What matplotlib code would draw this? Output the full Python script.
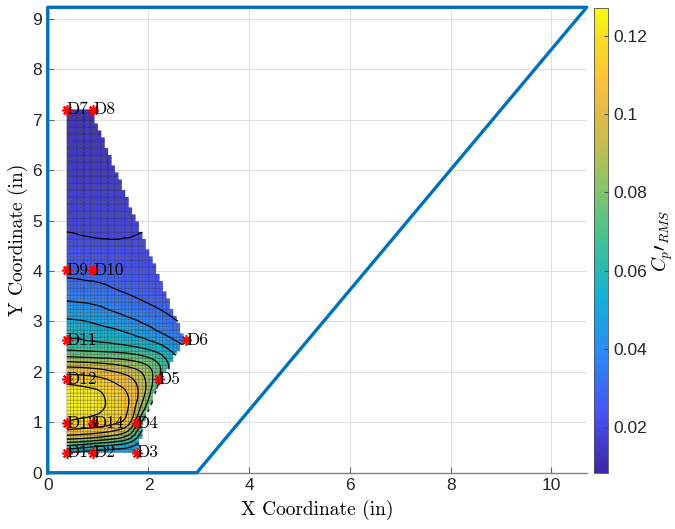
import numpy as np
import matplotlib.pyplot as plt
import matplotlib.tri as mtri
from matplotlib.colors import LinearSegmentedColormap
from matplotlib.path import Path

plt.rcParams['font.family'] = ['Liberation Sans', 'DejaVu Sans']
plt.rcParams['mathtext.fontset'] = 'cm'

# sensor positions (in)
sensor_names = ['D1', 'D2', 'D3', 'D4', 'D5', 'D6', 'D7',
                'D8', 'D9', 'D10', 'D11', 'D12', 'D13', 'D14']
sensor_x = [0.38, 0.90, 1.77, 1.77, 2.20, 2.75, 0.38,
            0.90, 0.38, 0.90, 0.38, 0.38, 0.38, 0.90]
sensor_y = [0.40, 0.40, 0.40, 0.98, 1.85, 2.63, 7.20,
            7.20, 4.02, 4.02, 2.63, 1.85, 0.98, 0.98]

# wing planform
wing_x = [0, 0, 10.7, 2.96, 0]
wing_y = [0, 9.23, 9.23, 0, 0]

# outline of the measured region
region_x = [0.38, 1.80, 1.87, 1.93, 2.05, 2.17, 2.29, 2.53, 2.76, 0.90, 0.38]
region_y = [0.40, 0.40, 0.65, 0.97, 1.30, 1.60, 1.84, 2.24, 2.63, 7.20, 7.20]

# Cp' RMS on a coarse grid
grid_x = [0.38, 0.7, 1.0, 1.3, 1.6, 1.9, 2.2, 2.5, 2.8]
grid_y = [0.4, 0.55, 0.7, 0.85, 1.0, 1.3, 1.6, 1.9, 2.1, 2.3, 2.5, 2.8,
          3.2, 3.6, 4.0, 4.4, 4.7, 5.0, 5.5, 6.0, 6.6, 7.2]
cp_rms = np.array([
    [0.050, 0.047, 0.045, 0.043, 0.042, 0.040, 0.038, 0.036, 0.034],
    [0.072, 0.068, 0.064, 0.060, 0.055, 0.045, 0.040, 0.037, 0.035],
    [0.095, 0.093, 0.090, 0.085, 0.075, 0.052, 0.042, 0.038, 0.035],
    [0.110, 0.108, 0.106, 0.102, 0.092, 0.058, 0.045, 0.040, 0.036],
    [0.119, 0.117, 0.115, 0.112, 0.104, 0.066, 0.048, 0.042, 0.037],
    [0.126, 0.124, 0.122, 0.117, 0.110, 0.084, 0.055, 0.045, 0.038],
    [0.125, 0.123, 0.121, 0.115, 0.109, 0.093, 0.065, 0.048, 0.040],
    [0.113, 0.112, 0.110, 0.106, 0.101, 0.091, 0.072, 0.052, 0.042],
    [0.100, 0.099, 0.097, 0.094, 0.090, 0.084, 0.072, 0.055, 0.043],
    [0.080, 0.079, 0.078, 0.077, 0.075, 0.071, 0.064, 0.052, 0.042],
    [0.066, 0.065, 0.064, 0.063, 0.061, 0.058, 0.053, 0.045, 0.038],
    [0.057, 0.056, 0.054, 0.052, 0.049, 0.045, 0.040, 0.035, 0.031],
    [0.046, 0.045, 0.043, 0.040, 0.037, 0.034, 0.031, 0.028, 0.026],
    [0.035, 0.034, 0.033, 0.031, 0.029, 0.027, 0.025, 0.023, 0.022],
    [0.028, 0.0275, 0.027, 0.026, 0.024, 0.023, 0.022, 0.021, 0.020],
    [0.0235, 0.023, 0.0225, 0.022, 0.0215, 0.0212, 0.021, 0.020, 0.020],
    [0.0205, 0.0200, 0.0196, 0.0195, 0.0198, 0.0203, 0.0203, 0.020, 0.020],
    [0.0190, 0.0188, 0.0186, 0.0185, 0.0187, 0.0190, 0.0190, 0.019, 0.019],
    [0.0170, 0.0170, 0.0168, 0.0168, 0.0168, 0.0170, 0.0170, 0.017, 0.017],
    [0.0150, 0.0150, 0.0150, 0.0150, 0.0150, 0.0150, 0.0150, 0.015, 0.015],
    [0.0135, 0.0135, 0.0135, 0.0135, 0.0135, 0.0135, 0.0135, 0.0135, 0.0135],
    [0.0120, 0.0120, 0.0120, 0.0120, 0.0120, 0.0120, 0.0120, 0.012, 0.012],
])

cbar_ticks = [0.02, 0.04, 0.06, 0.08, 0.1, 0.12]
cbar_labels = ['0.02', '0.04', '0.06', '0.08', '0.1', '0.12']
vmin, vmax = 0.0083, 0.1271

# parula-like colormap
parula = LinearSegmentedColormap.from_list('parula', [
    (0.000, (0.2422, 0.1504, 0.6603)),
    (0.125, (0.2810, 0.3228, 0.9579)),
    (0.250, (0.1786, 0.5289, 0.9682)),
    (0.375, (0.0689, 0.6948, 0.8394)),
    (0.500, (0.2500, 0.7600, 0.5800)),
    (0.600, (0.5000, 0.7700, 0.4300)),
    (0.700, (0.7500, 0.7450, 0.3200)),
    (0.780, (0.9000, 0.7300, 0.2800)),
    (0.857, (0.9990, 0.7653, 0.2164)),
    (0.930, (0.9650, 0.8600, 0.1450)),
    (1.000, (0.9769, 0.9839, 0.0805))], N=256)

# interpolate the coarse table onto the surface mesh
nx, ny = len(grid_x), len(grid_y)
gx, gy = np.meshgrid(grid_x, grid_y)
idx = np.arange(nx * ny).reshape(ny, nx)
t1 = np.stack([idx[:-1, :-1], idx[:-1, 1:], idx[1:, 1:]], -1).reshape(-1, 3)
t2 = np.stack([idx[:-1, :-1], idx[1:, 1:], idx[1:, :-1]], -1).reshape(-1, 3)
tri = mtri.Triangulation(gx.ravel(), gy.ravel(), np.vstack([t1, t2]))
interp = mtri.CubicTriInterpolator(tri, cp_rms.ravel(), kind='geom')

xv = np.linspace(0.38, 2.76, 36)
yv = np.linspace(0.40, 7.20, 99)
XV, YV = np.meshgrid(xv, yv)
zv = np.ma.asarray(interp(XV, YV))

path = Path(np.column_stack([region_x, region_y]))
pts = np.column_stack([XV.ravel(), YV.ravel()])
inside = path.contains_points(pts, radius=0.01) | path.contains_points(pts, radius=-0.01)
zv = np.ma.masked_where(~inside.reshape(XV.shape), zv)
zc = 0.25 * (zv[:-1, :-1] + zv[1:, :-1] + zv[:-1, 1:] + zv[1:, 1:])

fig = plt.figure(figsize=(6.75, 5.29), dpi=100)
ax = fig.add_axes([0.0707, 0.1064, 0.7985, 0.8798])

mesh = ax.pcolor(xv, yv, zc, cmap=parula, vmin=vmin, vmax=vmax,
                 edgecolors=(0, 0, 0, 0.4), linewidth=0.35, zorder=2)
ax.contour(XV, YV, zv, levels=np.arange(0.01, 0.125, 0.01),
           colors='k', linewidths=0.9, zorder=3)

ax.plot(sensor_x, sensor_y, linestyle='none', marker=(8, 2, 0),
        color='red', markersize=7.5, markeredgewidth=1.2, zorder=4)
for name, sx, sy in zip(sensor_names, sensor_x, sensor_y):
    ax.text(sx, sy, name, fontfamily='cmr10', fontsize=12.5,
            ha='left', va='center', zorder=5)

ax.plot(wing_x, wing_y, color=(0, 0.447, 0.741), linewidth=2.4,
        clip_on=False, zorder=6)

ax.set_xlim(0, 10.7)
ax.set_ylim(0, 9.23)
ax.set_xticks([0, 2, 4, 6, 8, 10])
ax.set_yticks(range(0, 10))
ax.grid(True, color='0.88', linewidth=0.7)
ax.set_axisbelow(True)
for side in ['top', 'right']:
    ax.spines[side].set_visible(False)
for side in ['left', 'bottom']:
    ax.spines[side].set_color('0.5')
    ax.spines[side].set_linewidth(1.0)
ax.tick_params(direction='in', length=4, color='0.4', labelsize=12.5,
               labelcolor='#262626', pad=4)
ax.set_xlabel('X Coordinate (in)', fontfamily='cmr10', fontsize=14, labelpad=5)
ax.set_ylabel('Y Coordinate (in)', fontfamily='cmr10', fontsize=14, labelpad=3)

cax = fig.add_axes([0.8804, 0.1064, 0.0199, 0.8782])
cb = fig.colorbar(mesh, cax=cax, ticks=cbar_ticks)
cb.ax.set_yticklabels(cbar_labels)
cb.ax.tick_params(direction='in', length=3, color='0.3', labelsize=12.5,
                  labelcolor='#262626', pad=4)
cb.outline.set_linewidth(0.6)
cb.outline.set_edgecolor('0.3')
cb.set_label(r'$C_p\prime_{RMS}$', fontsize=14, labelpad=2)

fig.savefig('out.png', dpi=100)
